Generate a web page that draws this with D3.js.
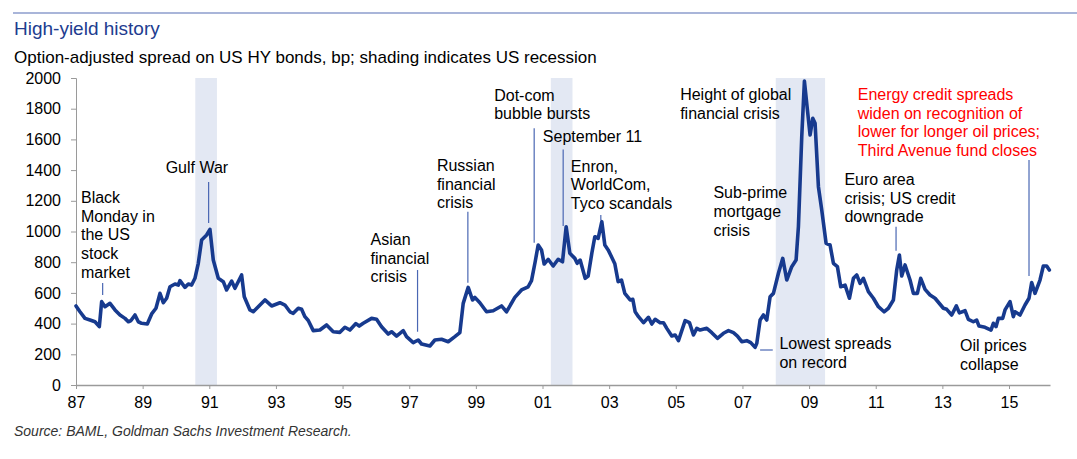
<!DOCTYPE html>
<html>
<head>
<meta charset="utf-8">
<script src="https://cdn.jsdelivr.net/npm/d3@7"></script>
<style>
  html, body { margin: 0; padding: 0; background: #ffffff; }
  svg { display: block; font-family: "Liberation Sans", Arial, Helvetica, sans-serif; }
</style>
</head>
<body>
<svg id="chart" width="1077" height="459"></svg>
<script>
// ---- Data (decimal years, bp) ----
const dates = [
  1987.00,1987.12,1987.27,1987.42,1987.57,1987.70,1987.77,1987.87,1988.02,1988.17,
  1988.32,1988.47,1988.57,1988.65,1988.77,1988.87,1988.97,1989.14,1989.27,1989.40,
  1989.52,1989.62,1989.72,1989.82,1989.97,1990.07,1990.12,1990.27,1990.37,1990.47,
  1990.57,1990.67,1990.77,1990.92,1991.02,1991.12,1991.27,1991.42,1991.52,1991.67,
  1991.77,1991.97,1992.05,1992.22,1992.32,1992.67,1992.87,1993.12,1993.27,1993.42,
  1993.52,1993.67,1993.77,1993.87,1993.97,1994.12,1994.32,1994.52,1994.72,1994.92,
  1995.07,1995.22,1995.40,1995.50,1995.62,1995.87,1996.02,1996.17,1996.37,1996.47,
  1996.62,1996.82,1996.92,1997.12,1997.27,1997.37,1997.62,1997.77,1997.97,1998.17,
  1998.37,1998.52,1998.62,1998.77,1998.90,1998.97,1999.12,1999.32,1999.52,1999.77,
  1999.92,2000.17,2000.37,2000.57,2000.67,2000.78,2000.87,2000.97,2001.05,2001.17,
  2001.32,2001.47,2001.60,2001.71,2001.82,2001.97,2002.04,2002.13,2002.28,2002.37,
  2002.48,2002.57,2002.67,2002.78,2002.87,2002.97,2003.07,2003.17,2003.27,2003.37,
  2003.47,2003.63,2003.71,2003.78,2003.88,2004.03,2004.18,2004.28,2004.38,2004.53,
  2004.63,2004.73,2004.88,2004.98,2005.08,2005.28,2005.41,2005.53,2005.63,2005.73,
  2005.93,2006.08,2006.25,2006.43,2006.58,2006.73,2006.85,2006.98,2007.13,2007.25,
  2007.38,2007.43,2007.53,2007.63,2007.73,2007.83,2007.93,2008.08,2008.21,2008.33,
  2008.48,2008.61,2008.68,2008.78,2008.86,2008.95,2009.03,2009.11,2009.18,2009.28,
  2009.38,2009.51,2009.63,2009.73,2009.85,2009.95,2010.08,2010.21,2010.33,2010.43,
  2010.53,2010.63,2010.78,2010.93,2011.08,2011.25,2011.38,2011.53,2011.63,2011.71,
  2011.78,2011.88,2012.03,2012.13,2012.25,2012.35,2012.48,2012.63,2012.78,2013.03,
  2013.13,2013.28,2013.42,2013.51,2013.68,2013.78,2013.93,2014.03,2014.10,2014.28,
  2014.46,2014.53,2014.61,2014.68,2014.81,2014.88,2015.03,2015.13,2015.18,2015.33,
  2015.48,2015.60,2015.68,2015.78,2015.93,2016.03,2016.13,2016.21
];
const spreads = [
  515,477,434,423,412,380,543,510,532,489,
  456,434,412,420,456,412,402,397,463,500,
  597,536,565,640,658,651,680,636,658,651,
  695,793,945,977,1014,814,695,673,619,677,
  630,717,575,489,477,554,515,536,521,477,
  467,500,493,445,420,354,358,391,347,343,
  376,358,400,384,402,434,428,380,332,347,
  319,354,315,276,293,267,254,293,298,282,
  315,341,532,636,554,571,536,477,484,515,
  477,571,619,640,680,803,912,880,788,819,
  775,819,803,1031,858,825,793,814,695,710,
  858,966,955,1064,912,880,836,790,673,684,
  597,554,558,477,445,406,441,397,428,406,
  406,369,319,326,289,419,406,326,369,358,
  369,341,304,337,354,341,319,282,289,276,
  245,271,423,456,423,575,597,728,825,684,
  771,814,1031,1618,1980,1792,1629,1737,1705,1292,
  1140,923,912,793,771,640,651,565,695,717,
  662,695,608,565,510,477,500,554,749,847,
  710,782,684,597,597,695,623,586,565,500,
  493,456,515,470,484,428,412,423,384,376,
  358,402,380,434,434,489,543,445,477,456,
  521,565,667,597,684,775,775,749
];
const recessionStart = [1990.58, 2001.25, 2008.00];
const recessionEnd   = [1991.23, 2001.90, 2009.48];
const yTickValues = [0,200,400,600,800,1000,1200,1400,1600,1800,2000];
const xTickYears  = [1987,1989,1991,1993,1995,1997,1999,2001,2003,2005,2007,2009,2011,2013,2015];
const xTickLabels = ["87","89","91","93","95","97","99","01","03","05","07","09","11","13","15"];

// Annotations: text lines anchored at (year, value); leader line from (year, v1) to (year, v2)
const annotations = [
  {lines:["Black","Monday in","the US","stock","market"], x:1987.15, y:1186, lx:1987.80, l1:665, l2:586, red:false},
  {lines:["Gulf War"], x:1989.69, y:1379, lx:1990.98, l1:1322, l2:1055, red:false},
  {lines:["Asian","financial","crisis"], x:1995.84, y:912, lx:1997.25, l1:749, l2:347, red:false},
  {lines:["Russian","financial","crisis"], x:1997.83, y:1394, lx:1998.76, l1:1129, l2:666, red:false},
  {lines:["Dot-com","bubble bursts"], x:1999.55, y:1852, lx:2000.75, l1:1672, l2:927, red:false},
  {lines:["September 11"], x:2001.01, y:1585, lx:2001.62, l1:1535, l2:1036, red:false},
  {lines:["Enron,","WorldCom,","Tyco scandals"], x:2001.85, y:1390, lx:2002.75, l1:1107, l2:1075, red:false},
  {lines:["Height of global","financial crisis"], x:2005.13, y:1857, red:false},
  {lines:["Sub-prime","mortgage","crisis"], x:2006.13, y:1216, red:false},
  {lines:["Lowest spreads","on record"], x:2008.11, y:233, red:false},
  {lines:["Euro area","crisis; US credit","downgrade"], x:2010.06, y:1303, lx:2011.61, l1:1031, l2:875, red:false},
  {lines:["Energy credit spreads","widen on recognition of","lower for longer oil prices;","Third Avenue fund closes"], x:2010.46, y:1857, lx:2015.60, l1:1466, l2:710, red:true},
  {lines:["Oil prices","collapse"], x:2013.53, y:221, red:false}
];
// horizontal leader for "Lowest spreads"
const lowestLeader = {x1:2007.53, x2:2007.91, v:228};

// ---- Drawing ----
const svg = d3.select("#chart");
const x = d3.scaleLinear().domain([1987, 2016.23]).range([76, 1050]);
const y = d3.scaleLinear().domain([0, 2000]).range([385, 78]);

const lineBlue = "#173a8e";
const leaderBlue = "#4a67b3";

// top rule
svg.append("line").attr("x1", 13).attr("x2", 1077).attr("y1", 13).attr("y2", 13)
  .attr("stroke", "#8c9dcc").attr("stroke-width", 1.5);
svg.append("text").attr("x", 14).attr("y", 35).attr("fill", "#213c8f")
  .attr("font-size", 19).text("High-yield history");
svg.append("text").attr("x", 14).attr("y", 63).attr("fill", "#000")
  .attr("font-size", 17).text("Option-adjusted spread on US HY bonds, bp; shading indicates US recession");

// recession shading
svg.append("g").selectAll("rect").data(recessionStart).join("rect")
  .attr("x", (d, i) => x(d))
  .attr("width", (d, i) => x(recessionEnd[i]) - x(d))
  .attr("y", y(2000)).attr("height", y(0) - y(2000))
  .attr("fill", "#e3e8f3");

// y axis
const yAxis = d3.axisLeft(y).tickValues(yTickValues).tickFormat(d3.format("d"))
  .tickSize(5).tickPadding(10);
const gy = svg.append("g").attr("transform", "translate(76,0)").call(yAxis);
gy.select(".domain").attr("stroke", "#9a9a9a");
gy.selectAll(".tick line").attr("stroke", "#9a9a9a");
gy.selectAll(".tick text").attr("font-size", 16).attr("fill", "#000")
  .attr("font-family", "Liberation Sans, Arial, sans-serif");

// x axis
const xAxis = d3.axisBottom(x).tickValues(xTickYears)
  .tickFormat((d, i) => xTickLabels[i]).tickSize(4).tickPadding(8).tickSizeOuter(0);
const gx = svg.append("g").attr("transform", "translate(0,385)").call(xAxis);
gx.select(".domain").attr("stroke", "#9a9a9a").attr("stroke-width", 1.5);
gx.selectAll(".tick line").attr("stroke", "#9a9a9a");
gx.selectAll(".tick text").attr("font-size", 16).attr("fill", "#000")
  .attr("font-family", "Liberation Sans, Arial, sans-serif");

// series line
const pts = dates.map((d, i) => [d, spreads[i]]);
svg.append("path").datum(pts)
  .attr("fill", "none").attr("stroke", lineBlue).attr("stroke-width", 3.6)
  .attr("stroke-linejoin", "round").attr("stroke-linecap", "round")
  .attr("d", d3.line().x(d => x(d[0])).y(d => y(d[1])));

// annotations
const ag = svg.append("g");
annotations.forEach(a => {
  if (a.lx !== undefined) {
    ag.append("line").attr("x1", x(a.lx)).attr("x2", x(a.lx))
      .attr("y1", y(a.l1)).attr("y2", y(a.l2))
      .attr("stroke", leaderBlue).attr("stroke-width", 1.2);
  }
  const t = ag.append("text").attr("x", x(a.x)).attr("y", y(a.y))
    .attr("font-size", 16).attr("fill", a.red ? "#ff0000" : "#000");
  a.lines.forEach((ln, i) => {
    t.append("tspan").attr("x", x(a.x)).attr("dy", i === 0 ? 0 : 18.7).text(ln);
  });
});
ag.append("line").attr("x1", x(lowestLeader.x1)).attr("x2", x(lowestLeader.x2))
  .attr("y1", y(lowestLeader.v)).attr("y2", y(lowestLeader.v))
  .attr("stroke", leaderBlue).attr("stroke-width", 1.2);

// source
svg.append("text").attr("x", 14).attr("y", 436).attr("font-size", 14)
  .attr("font-style", "italic").attr("fill", "#333")
  .text("Source: BAML, Goldman Sachs Investment Research.");
</script>
</body>
</html>
